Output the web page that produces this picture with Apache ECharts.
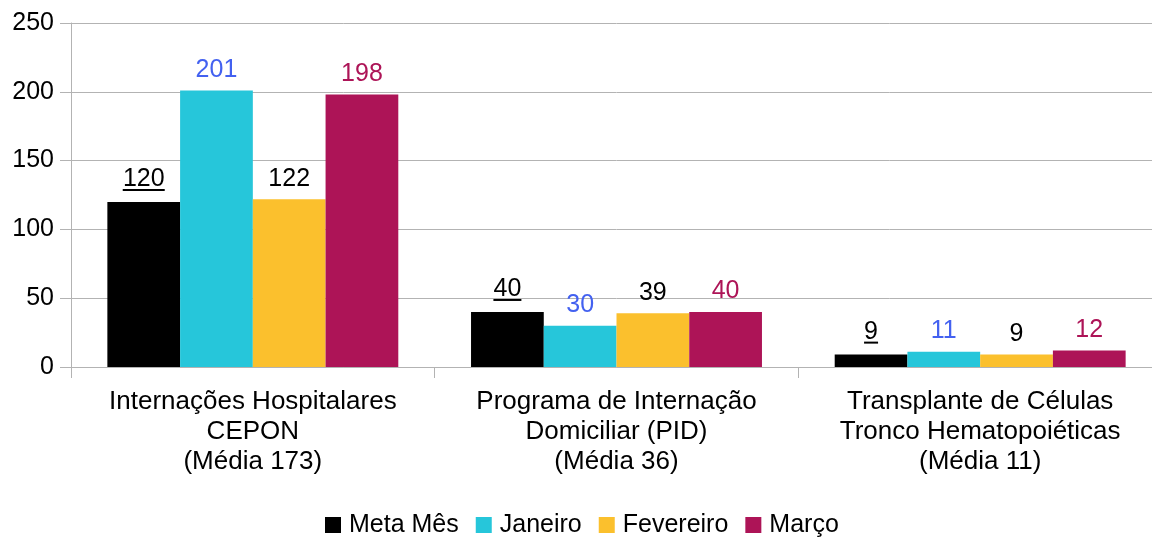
<!DOCTYPE html>
<html>
<head>
<meta charset="utf-8">
<script src="https://cdn.jsdelivr.net/npm/echarts@6/dist/echarts.min.js"></script>
<style>
  html, body { margin: 0; padding: 0; background: #fff; overflow: hidden; }
  #main { width: 1162px; height: 537px; }
</style>
</head>
<body>
<div id="main"></div>
<script>
// dados
var categorias = [
  'Internações Hospitalares\nCEPON\n(Média 173)',
  'Programa de Internação\nDomiciliar (PID)\n(Média 36)',
  'Transplante de Células\nTronco Hematopoiéticas\n(Média 11)'
]
var metaMes = [120, 40, 9]
var janeiro = [201, 30, 11]
var fevereiro = [122, 39, 9]
var marco = [198, 40, 12]
var yTicks = [0, 50, 100, 150, 200, 250]

var cores = ['#000000', '#26C6DA', '#FBC02D', '#AD1457']
var coresRotulo = ['#000000', '#4361F0', '#000000', '#AD1457']
var FS = 25

function serie(nome, dados, i, sublinhado) {
  var label = {
    show: true,
    position: 'top',
    distance: 8,
    fontSize: FS,
    lineHeight: 25,
    fontFamily: 'Liberation Sans',
    color: coresRotulo[i]
  }
  if (sublinhado) {
    // numero com sublinhado desenhado como caixa do rich text
    label.distance = 11
    label.formatter = function (p) {
      var s = String(p.value)
      return '{n|' + s + '}\n{u' + s.length + '| }'
    }
    label.rich = {
      n: { fontSize: FS, lineHeight: 20, color: '#000', fontFamily: 'Liberation Sans' },
      u1: { width: 14, height: 2, lineHeight: 2, backgroundColor: '#000', fontSize: 1 },
      u2: { width: 28, height: 2, lineHeight: 2, backgroundColor: '#000', fontSize: 1 },
      u3: { width: 42, height: 2, lineHeight: 2, backgroundColor: '#000', fontSize: 1 }
    }
  }
  return {
    name: nome,
    type: 'bar',
    data: dados,
    barGap: '0%',
    barCategoryGap: '20%',
    itemStyle: { color: cores[i] },
    label: label
  }
}

var myChart = echarts.init(document.getElementById('main'))
var option = {
  animation: false,
  textStyle: { fontFamily: 'Liberation Sans' },
  grid: { left: 71, right: 0, top: 23, bottom: 170, containLabel: false },
  legend: {
    top: 507,
    left: 320,
    itemWidth: 16,
    itemHeight: 16,
    itemGap: 17,
    icon: 'rect',
    textStyle: { fontSize: 25, lineHeight: 26, color: '#000', fontFamily: 'Liberation Sans', padding: [0, 0, 0, 3] },
    data: ['Meta Mês', 'Janeiro', 'Fevereiro', 'Março']
  },
  xAxis: {
    type: 'category',
    data: categorias,
    axisLine: { lineStyle: { color: '#b3b3b3', width: 1 } },
    axisTick: { show: true, length: 11, lineStyle: { color: '#b3b3b3' } },
    axisLabel: {
      fontSize: 26,
      color: '#000',
      lineHeight: 30,
      margin: 20,
      interval: 0
    }
  },
  yAxis: {
    type: 'value',
    min: yTicks[0],
    max: yTicks[yTicks.length - 1],
    interval: 50,
    axisLine: { show: true, lineStyle: { color: '#b3b3b3' } },
    axisTick: { show: true, length: 11, lineStyle: { color: '#b3b3b3' } },
    splitLine: { show: true, lineStyle: { color: '#b3b3b3' } },
    axisLabel: { fontSize: FS, color: '#000', margin: 17 }
  },
  series: [
    serie('Meta Mês', metaMes, 0, true),
    serie('Janeiro', janeiro, 1, false),
    serie('Fevereiro', fevereiro, 2, false),
    serie('Março', marco, 3, false)
  ]
}
myChart.setOption(option)
</script>
</body>
</html>
